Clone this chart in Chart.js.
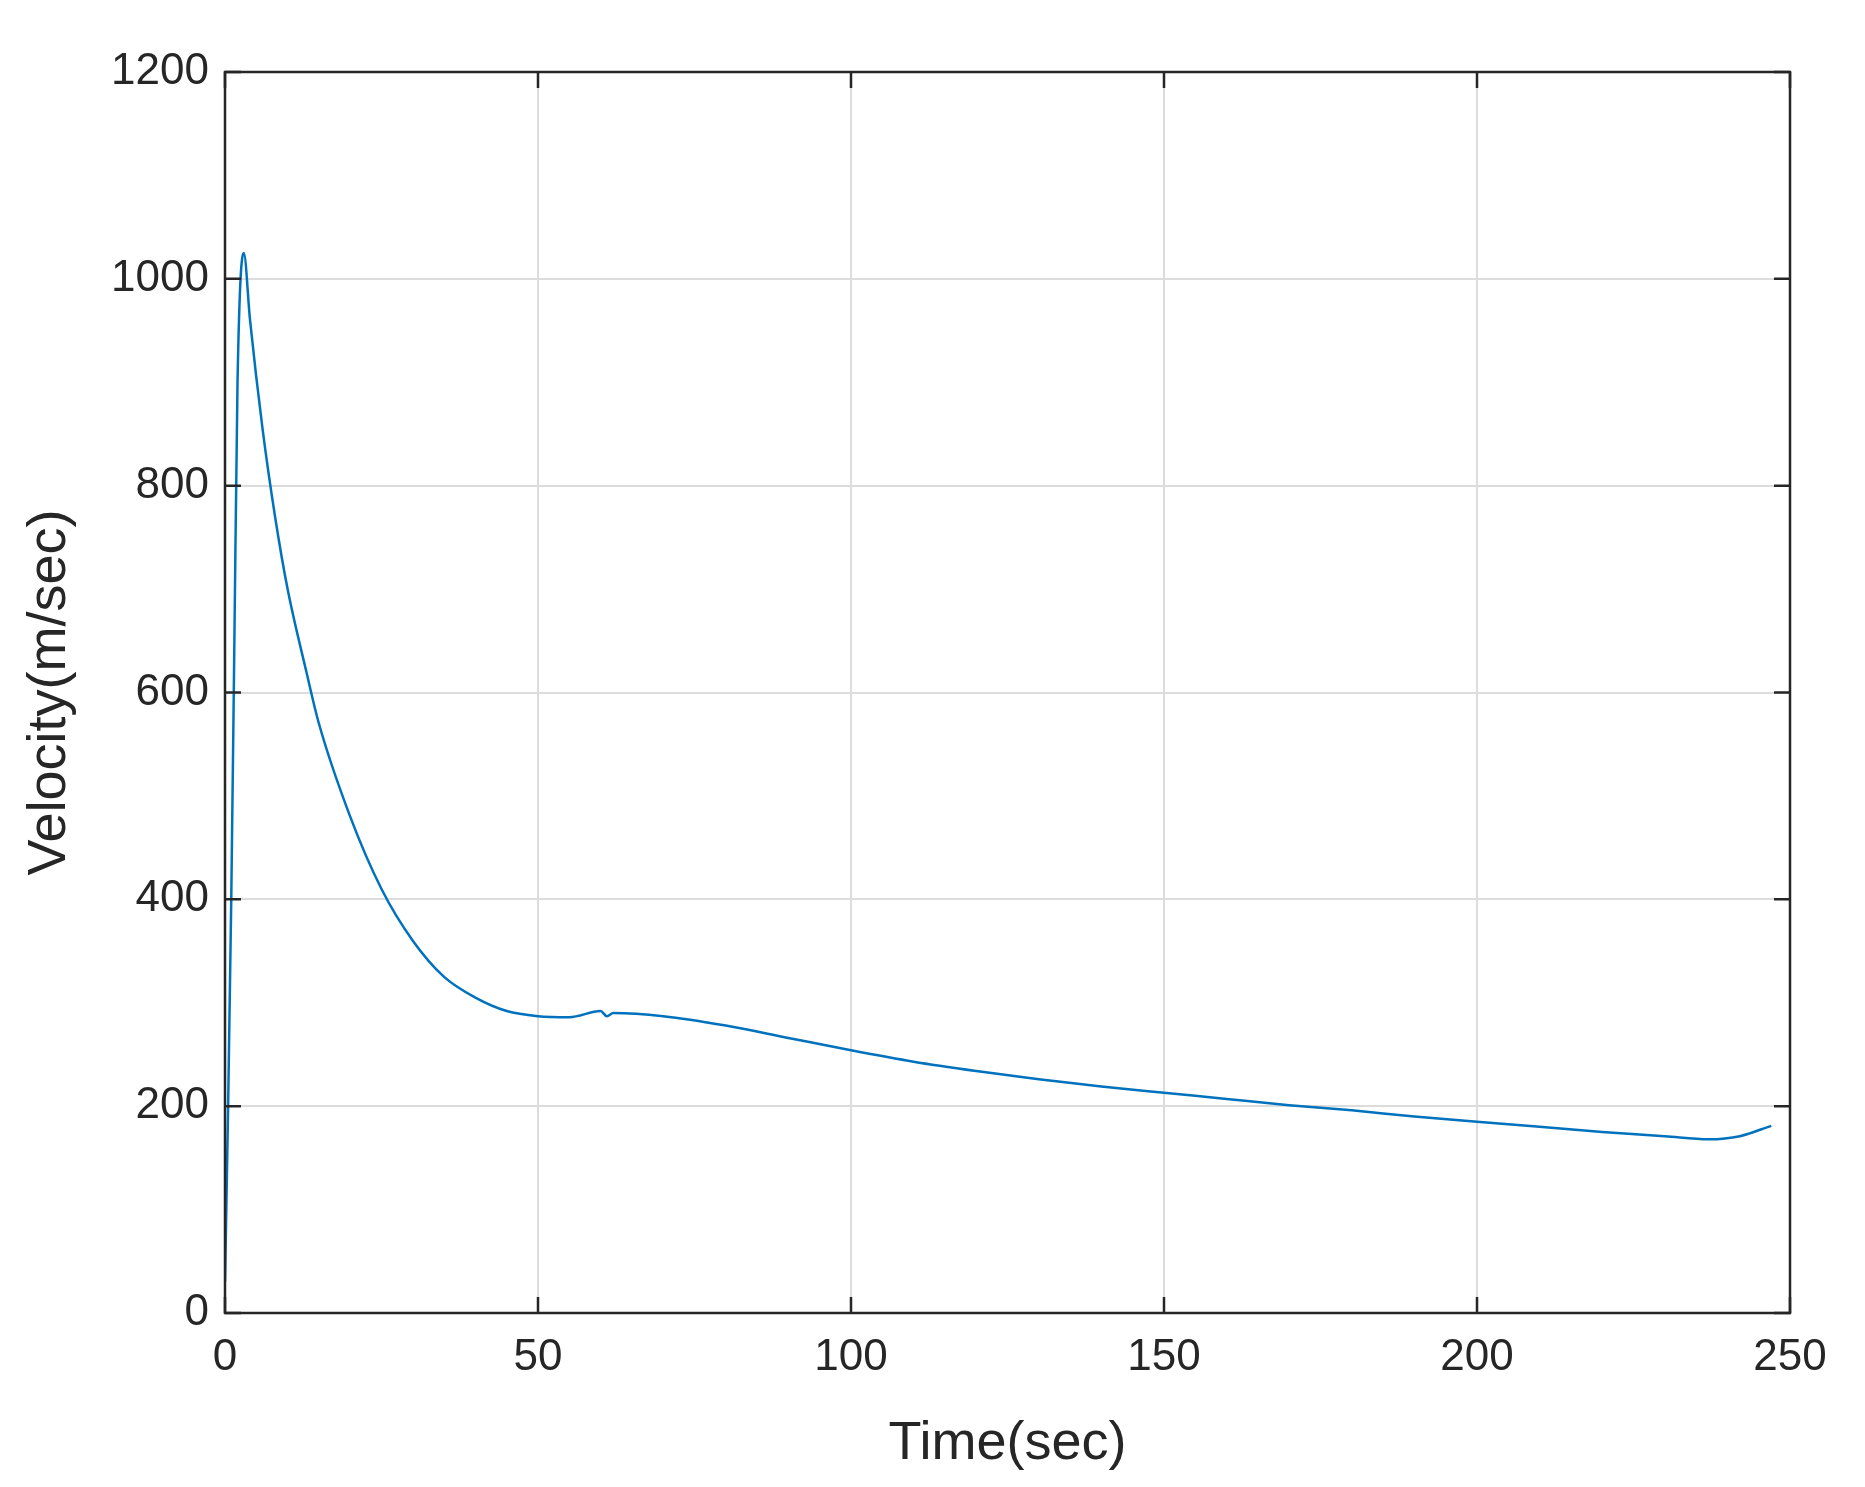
<!DOCTYPE html>
<html>
<head>
<meta charset="utf-8">
<script src="https://cdn.jsdelivr.net/npm/chart.js@4/dist/chart.umd.min.js"></script>
<style>
  body { margin: 0; background: #fff; }
</style>
</head>
<body>
<canvas id="chart" width="1865" height="1487"></canvas>
<script>
// Data
const timeValues = [0, 0.5, 1, 1.5, 2, 3, 4, 6, 8, 10, 13, 15, 20, 25, 30, 35, 40, 45, 50, 55, 60, 61, 62, 70, 80, 90, 100, 110, 120, 130, 140, 150, 160, 170, 180, 190, 200, 210, 220, 230, 237, 242, 247];
const velocityValues = [30, 200, 400, 650, 900, 1025, 960, 855, 770, 700, 620, 570, 480, 410, 360, 325, 305, 292, 287, 286, 292, 287, 290, 287, 278, 266, 254, 243, 234, 226, 219, 213, 207, 201, 196, 190, 185, 180, 175, 171, 168, 171, 181];
const xTicks = [0, 50, 100, 150, 200, 250];
const yTicks = [0, 200, 400, 600, 800, 1000, 1200];

const axisColor = '#262626';
const fontFamily = '"Liberation Sans", Arial, sans-serif';

// Box around the plot with inward ticks, like the original figure
const boxPlugin = {
    id: 'box',
    afterDraw(chart) {
        const ctx = chart.ctx;
        const a = chart.chartArea;
        const xs = chart.scales.x, ys = chart.scales.y;
        const len = 16;
        ctx.save();
        ctx.strokeStyle = axisColor;
        ctx.lineWidth = 2.5;
        ctx.strokeRect(a.left, a.top, a.right - a.left, a.bottom - a.top);
        ctx.beginPath();
        xTicks.forEach(t => {
            const px = xs.getPixelForValue(t);
            ctx.moveTo(px, a.bottom); ctx.lineTo(px, a.bottom - len);
            ctx.moveTo(px, a.top); ctx.lineTo(px, a.top + len);
        });
        yTicks.forEach(t => {
            const py = ys.getPixelForValue(t);
            ctx.moveTo(a.left, py); ctx.lineTo(a.left + len, py);
            ctx.moveTo(a.right, py); ctx.lineTo(a.right - len, py);
        });
        ctx.stroke();
        ctx.restore();
    }
};

new Chart(document.getElementById('chart').getContext('2d'), {
    type: 'line',
    data: {
        datasets: [{
            data: timeValues.map((t, i) => ({ x: t, y: velocityValues[i] })),
            borderColor: '#0072BD',
            borderWidth: 2.5,
            pointRadius: 0,
            cubicInterpolationMode: 'monotone',
            fill: false
        }]
    },
    options: {
        responsive: false,
        animation: false,
        layout: { padding: { left: 14, right: 75, top: 72, bottom: 6 } },
        plugins: { legend: { display: false }, tooltip: { enabled: false } },
        scales: {
            x: {
                type: 'linear',
                min: 0, max: 250,
                afterBuildTicks: s => { s.ticks = xTicks.map(v => ({ value: v })); },
                afterFit: s => { s.height = 168; },
                grid: { color: '#dcdcdc', lineWidth: 2, drawTicks: false },
                border: { display: false },
                ticks: { color: axisColor, padding: 18, font: { family: fontFamily, size: 44 }, callback: v => String(v) },
                title: { display: true, text: 'Time(sec)', color: axisColor, padding: { top: 4 }, font: { family: fontFamily, size: 54 } }
            },
            y: {
                min: 0, max: 1200,
                afterBuildTicks: s => { s.ticks = yTicks.map(v => ({ value: v })); },
                afterFit: s => { s.width = 211; },
                grid: { color: '#dcdcdc', lineWidth: 2, drawTicks: false },
                border: { display: false },
                ticks: { color: axisColor, padding: 16, font: { family: fontFamily, size: 44 }, callback: v => String(v) },
                title: { display: true, text: 'Velocity(m/sec)', color: axisColor, padding: { bottom: 10 }, font: { family: fontFamily, size: 54 } }
            }
        }
    },
    plugins: [boxPlugin]
});
</script>
</body>
</html>
